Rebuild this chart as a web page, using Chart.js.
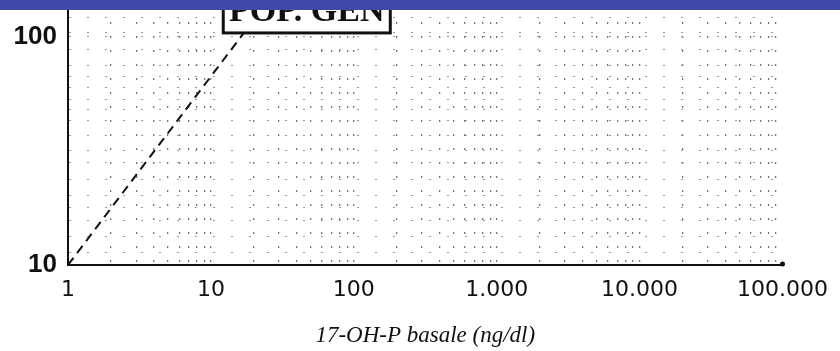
<!DOCTYPE html>
<html>
<head>
<meta charset="utf-8">
<script src="https://cdn.jsdelivr.net/npm/chart.js@4"></script>
<style>
  html, body { margin: 0; padding: 0; background: #fff; }
  #wrap { width: 840px; height: 351px; position: relative; }
</style>
</head>
<body>
<div id="wrap"><canvas id="logChart" width="840" height="351"></canvas></div>
<script>
// Data
const lineX = [1, 17];
const lineY = [10, 104];

const xTickValues = [1, 10, 100, 1000, 10000, 100000];
const xTickLabels = ['1', '10', '100', '1.000', '10.000', '100.000'];
const yTickValues = [10, 100];
const yTickLabels = ['10', '100'];

// dotted rows of the background grid
const yGridValues = [11.4, 13.3, 15.7, 17.8, 20.2, 23.6, 28, 31.6, 37, 43, 48, 53, 60, 67, 75, 88, 104, 121];

const boxLabel = 'POP. GEN';
const boxX = [12.2, 180];
const boxBottomY = 104;

const xTitle = '17-OH-P basale (ng/dl)';

document.addEventListener("DOMContentLoaded", () => {

    // Box, end dot and the blue band on top
    const overlayPlugin = {
        id: 'overlay',
        afterDatasetsDraw(chart) {
            const ctx = chart.ctx;
            const xs = chart.scales.x;
            const ys = chart.scales.y;
            const area = chart.chartArea;

            // label box
            const x1 = xs.getPixelForValue(boxX[0]);
            const x2 = xs.getPixelForValue(boxX[1]);
            const yb = ys.getPixelForValue(boxBottomY);
            ctx.save();
            ctx.fillStyle = '#fff';
            ctx.fillRect(x1, -20, x2 - x1, yb + 20);
            ctx.lineWidth = 3;
            ctx.strokeStyle = '#111';
            ctx.strokeRect(x1, -20, x2 - x1, yb + 20);
            ctx.fillStyle = '#111';
            ctx.font = "bold 34px 'Liberation Serif'";
            ctx.textAlign = 'center';
            ctx.textBaseline = 'alphabetic';
            ctx.fillText(boxLabel, (x1 + x2) / 2, yb - 12);

            // small dot at the end of the x axis
            ctx.beginPath();
            ctx.arc(area.right, area.bottom - 1, 2.5, 0, Math.PI * 2);
            ctx.fill();
            ctx.restore();
        },
        afterDraw(chart) {
            const ctx = chart.ctx;
            ctx.save();
            ctx.fillStyle = '#4248a8';
            ctx.fillRect(0, 0, chart.width, 10);
            ctx.restore();
        }
    };

    const ctx = document.getElementById('logChart').getContext('2d');
    new Chart(ctx, {
        type: 'line',
        data: {
            datasets: [{
                data: lineX.map((x, i) => ({ x: x, y: lineY[i] })),
                borderColor: '#111',
                borderWidth: 2,
                borderDash: [9, 6],
                pointRadius: 0,
                fill: false,
                tension: 0
            }]
        },
        options: {
            responsive: false,
            animation: false,
            devicePixelRatio: 1,
            layout: { padding: { top: 0, right: 52, left: 0, bottom: 0 } },
            plugins: {
                legend: { display: false },
                tooltip: { enabled: false }
            },
            scales: {
                x: {
                    type: 'logarithmic',
                    min: 1,
                    max: 100000,
                    afterBuildTicks: (scale) => {
                        const ticks = [];
                        for (let d = 1; d < 100000; d *= 10) {
                            for (let k = 1; k < 10; k++) ticks.push({ value: d * k });
                        }
                        ticks.push({ value: 100000 });
                        scale.ticks = ticks;
                    },
                    afterFit: (scale) => { scale.height = 86; },
                    grid: {
                        color: (c) => (c.tick && c.tick.value === 100000) ? 'rgba(0,0,0,0)' : '#777',
                        lineWidth: 1.3,
                        drawTicks: false
                    },
                    border: { display: true, color: '#111', width: 2, dash: [2, 12], dashOffset: 6 },
                    ticks: {
                        autoSkip: false,
                        maxRotation: 0,
                        padding: 12,
                        color: '#111',
                        font: { family: "'DejaVu Sans'", size: 22 },
                        callback: (value) => {
                            const i = xTickValues.indexOf(value);
                            return i >= 0 ? xTickLabels[i] : '';
                        }
                    }, 
                    title: {
                        display: true,
                        text: xTitle,
                        color: '#111',
                        font: { family: "'Liberation Serif'", size: 23, style: 'italic' },
                        padding: { top: 0, bottom: 1 }
                    }
                },
                y: {
                    type: 'logarithmic',
                    min: 10,
                    max: 145,
                    afterBuildTicks: (scale) => {
                        const vals = yTickValues.concat(yGridValues).sort((a, b) => a - b);
                        scale.ticks = vals.map(v => ({ value: v }));
                    },
                    afterFit: (scale) => {
                        scale.width = 68;
                        scale.paddingTop = 0;
                        scale.paddingBottom = 0;
                    },
                    grid: {
                        color: '#999',
                        lineWidth: 1,
                        drawTicks: false
                    },
                    border: { display: true, color: '#111', width: 2, dash: [2, 16] },
                    ticks: {
                        autoSkip: false,
                        padding: 11,
                        color: '#111',
                        font: { family: "'Liberation Sans'", size: 26, weight: 'bold' },
                        callback: (value) => {
                            const i = yTickValues.indexOf(value);
                            return i >= 0 ? yTickLabels[i] : '';
                        }
                    }
                }
            }
        },
        plugins: [overlayPlugin]
    });
});
</script>
</body>
</html>
